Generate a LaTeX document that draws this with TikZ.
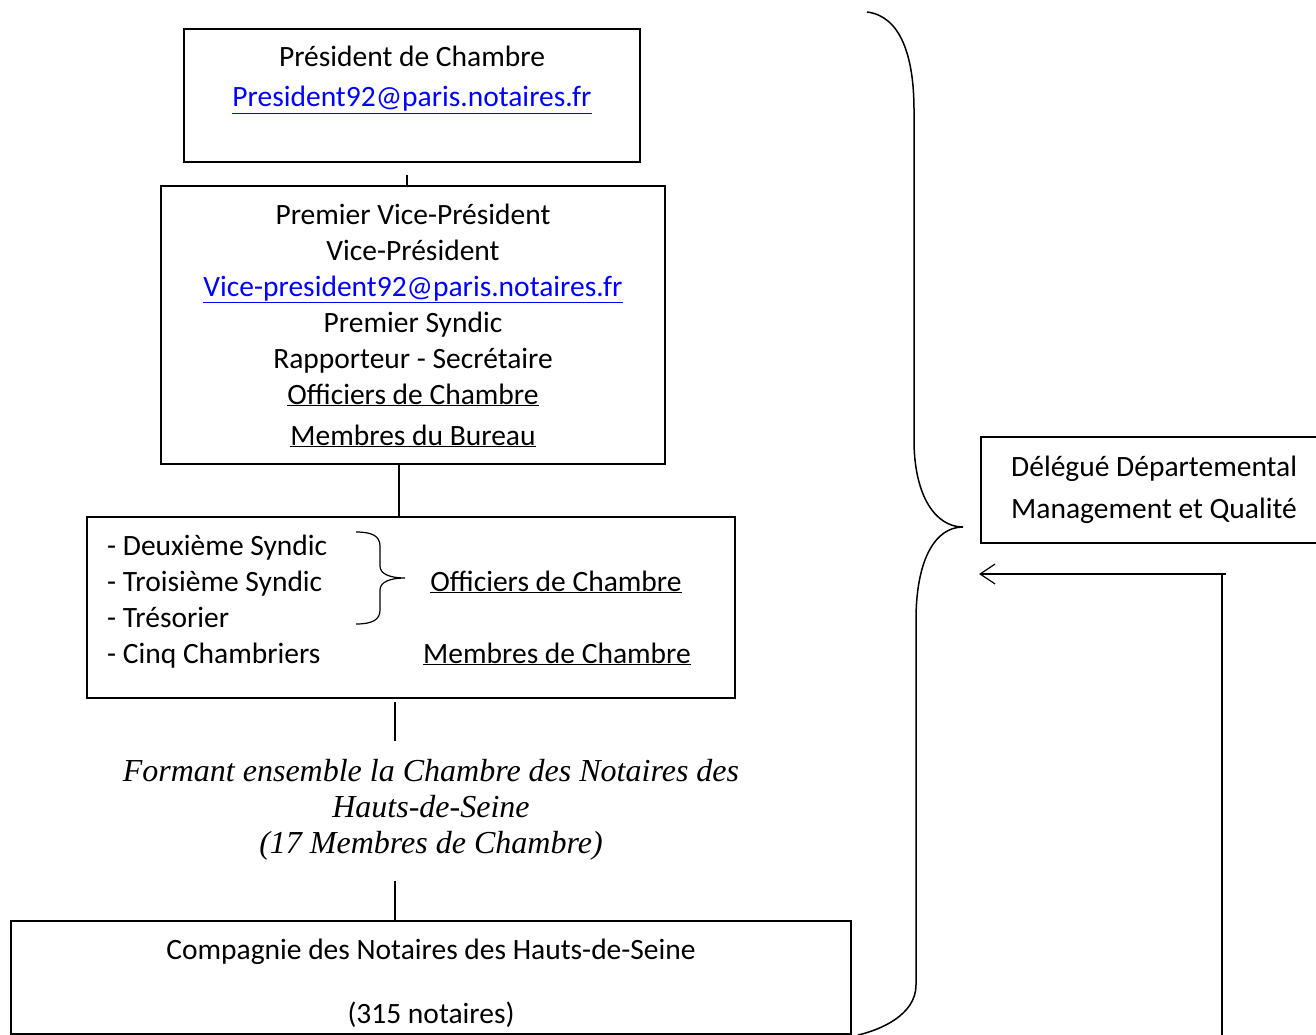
\documentclass[tikz,border=0pt]{standalone}
\usepackage{fontspec}
\setmainfont{Carlito}
\newfontfamily\serifit{Liberation Serif}
\usetikzlibrary{arrows.meta}
\definecolor{linkblue}{RGB}{0,0,255}
\tikzset{
  box/.style={draw, line width=1.2pt, inner sep=0pt},
  txt/.style={anchor=base, inner sep=0pt, font=\fontsize{29.5}{36}\selectfont},
  lnk/.style={txt, text=linkblue},
  itx/.style={anchor=base, inner sep=0pt, font=\serifit\itshape\fontsize{32}{36}\selectfont},
  conn/.style={line width=1.2pt},
  brace/.style={line width=1.5pt}
}
\newcommand{\ul}[1]{\underline{#1}}
\begin{document}
\begin{tikzpicture}[x=1pt,y=-1pt]
\useasboundingbox (0,0) rectangle (1316,1035);
% boxes
\node[box, minimum width=456pt, minimum height=133pt] (A) at (412,95.5) {};
\node[box, minimum width=504pt, minimum height=278pt] (B) at (413,325) {};
\node[box, minimum width=648pt, minimum height=181pt] (C) at (411,607.5) {};
\node[box, minimum width=840pt, minimum height=113pt] (D) at (431,977.5) {};
\node[box, minimum width=345pt, minimum height=106pt] (E) at (1153.5,490) {};
% box A text
\node[txt] (a1) at (412,67) {Président de Chambre};
\node[lnk] (a2) at (412,107) {\ul{President92@paris.notaires.fr}};
% box B text
\node[txt] (b1) at (413,224) {Premier Vice-Président};
\node[txt] (b2) at (413,260) {Vice-Président};
\node[lnk] (b3) at (413,296) {\ul{Vice-president92@paris.notaires.fr}};
\node[txt] (b4) at (413,332) {Premier Syndic};
\node[txt] (b5) at (413,368) {Rapporteur - Secrétaire};
\node[txt] (b6) at (413,404) {\ul{Officiers de Chambre}};
\node[txt] (b7) at (413,445) {\ul{Membres du Bureau}};
% box C text
\node[txt, anchor=base west] (c1) at (107,555) {- Deuxième Syndic};
\node[txt, anchor=base west] (c2) at (107,591) {- Troisième Syndic};
\node[txt, anchor=base west] (c3) at (107,627) {- Trésorier};
\node[txt, anchor=base west] (c4) at (107,663) {- Cinq Chambriers};
\node[txt] (c5) at (556,591) {\ul{Officiers de Chambre}};
\node[txt] (c6) at (557,663) {\ul{Membres de Chambre}};
\coordinate (bt) at (356,532);
\coordinate (bb) at (356,624);
\draw[conn] (bt) .. controls (372,532) and (380,536) .. (380,546)
  -- (380,566) .. controls (380,574) and (390,578) .. (405,578)
  .. controls (390,578) and (380,582) .. (380,590)
  -- (380,610) .. controls (380,620) and (372,624) .. (bb);
% italic text
\node[itx] (f1) at (431,781) {Formant ensemble la Chambre des Notaires des};
\node[itx] (f2) at (431,817) {Hauts-de-Seine};
\node[itx] (f3) at (431,853) {(17 Membres de Chambre)};
% box D text
\node[txt] (d1) at (431,959) {Compagnie des Notaires des Hauts-de-Seine};
\node[txt] (d2) at (431,1023) {(315 notaires)};
% box E text
\node[txt, anchor=base west] (e1) at (1011,476) {Délégué Départemental};
\node[txt, anchor=base west] (e2) at (1011,518) {Management et Qualité};
% connectors
\coordinate (a0) at (407,175);
\draw[conn] (a0) -- (a0 |- B.north);
\coordinate (bc) at (399,464);
\draw[conn] (bc) -- (bc |- C.north);
\coordinate (c0) at (395,702);
\coordinate (c1e) at (395,741);
\draw[conn] (c0) -- (c1e);
\coordinate (f0) at (395,881);
\draw[conn] (f0) -- (f0 |- D.north);
% big brace
\coordinate (BT) at (867,12);
\coordinate (BB) at (858,1035);
\draw[brace] (BT) .. controls (900,16) and (914,55) .. (914,110)
  -- (914,440) .. controls (914,495) and (935,527) .. (963,527)
  .. controls (935,527) and (916,560) .. (916,620)
  -- (916,985) .. controls (916,1015) and (880,1030) .. (BB);
% arrow
\coordinate (r0) at (1222,1035);
\coordinate (r1) at (1222,574);
\coordinate (r2) at (1226,574);
\coordinate (rt) at (979,574);
\draw[conn] (r0) -- (r1);
\draw[conn, -{Straight Barb[length=15pt,width=20pt,line width=1.2pt]}] (r2) -- (rt);
\end{tikzpicture}
\end{document}
